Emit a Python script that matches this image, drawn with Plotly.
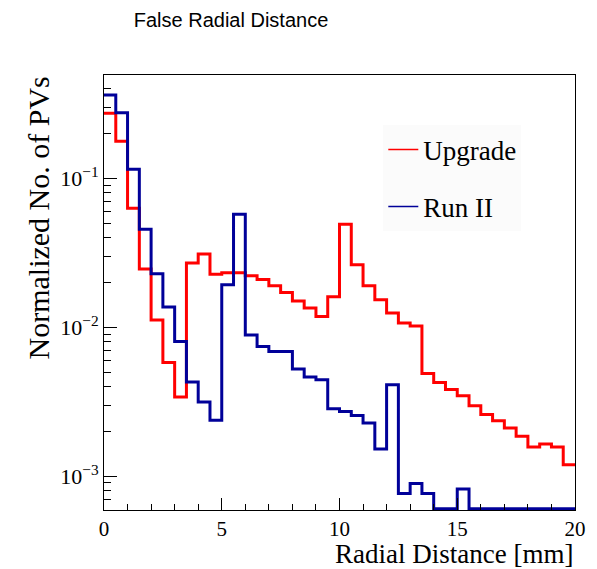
import numpy as np
import plotly.graph_objects as go

# ---- data ----
bin_lo, bin_hi, n_bins = 0.0, 20.0, 40
upgrade = [0.274, 0.178, 0.063, 0.0246, 0.0112, 0.0058, 0.0034, 0.027, 0.0311, 0.0227,
           0.0232, 0.0232, 0.0222, 0.0209, 0.0190, 0.0171, 0.0150, 0.01345, 0.0118, 0.0160,
           0.0493, 0.0263, 0.0190, 0.0153, 0.01245, 0.0107, 0.0102, 0.00488, 0.00426, 0.00381,
           0.00347, 0.00297, 0.00259, 0.00235, 0.0021, 0.00185, 0.00157, 0.00164, 0.00157, 0.00119]
run2 = [0.363, 0.2765, 0.1153, 0.0456, 0.0229, 0.01366, 0.00803, 0.00429, 0.00315, 0.00237,
        0.0193, 0.0575, 0.00887, 0.00743, 0.00688, 0.00688, 0.00525, 0.00463, 0.00444, 0.00283,
        0.00272, 0.00255, 0.00227, 0.00152, 0.00411, 0.000763, 0.000891, 0.000763, 0.0, 0.0,
        0.00082, 0.0, 0.0, 0.0, 0.0, 0.0, 0.0, 0.0, 0.0, 0.0]
x_tick_vals = [0, 5, 10, 15, 20]
y_tick_vals = [1e-3, 1e-2, 1e-1]
y_tick_text = ["10<sup>\u22123</sup>", "10<sup>\u22122</sup>", "10<sup>\u22121</sup>"]

# ---- styling ----
LOG_MIN, LOG_MAX = -3.228, -0.305
edges = np.linspace(bin_lo, bin_hi, n_bins + 1)
floor = 10 ** (LOG_MIN + 0.008)  # empty bins drawn on the frame bottom (ROOT style)


def step_y(vals):
    v = [max(a, floor) for a in vals]
    return v + [v[-1]]


RED = "#FF0000"
BLUE = "#000099"
SERIF = "Liberation Serif, Times New Roman, serif"
SANS = "Liberation Sans, Arial, Helvetica, sans-serif"

fig = go.Figure()
fig.add_trace(go.Scatter(x=edges, y=step_y(upgrade), mode="lines", line_shape="hv",
                         line=dict(color=RED, width=3), showlegend=False, name="Upgrade"))
fig.add_trace(go.Scatter(x=edges, y=step_y(run2), mode="lines", line_shape="hv",
                         line=dict(color=BLUE, width=3), showlegend=False, name="Run II"))
# legend entries (thin lines, as in the reference)
fig.add_trace(go.Scatter(x=[None], y=[None], mode="lines", line=dict(color=RED, width=1.5),
                         name="Upgrade", legendgroup="a"))
fig.add_trace(go.Scatter(x=[None], y=[None], mode="lines", line=dict(color=BLUE, width=1.5),
                         name="Run II", legendgroup="b"))

minor_y = [m * 10 ** e for e in (-4, -3, -2, -1) for m in range(2, 10)]
minor_y = [v for v in minor_y if 10 ** LOG_MIN <= v <= 10 ** LOG_MAX]

PW, PH = 471, 435  # plot-area size in px

fig.update_layout(
    width=597, height=569,
    margin=dict(l=104, r=22, t=75, b=59),
    paper_bgcolor="white", plot_bgcolor="white",
    title=dict(text="False Radial Distance", x=231 / 597, xanchor="center",
               y=1 - 20 / 569, yanchor="middle",
               font=dict(family=SANS, size=20, color="black")),
    showlegend=True,
    legend=dict(x=0.593, y=0.884, xanchor="left", yanchor="top",
                bgcolor="rgba(248,248,248,0.5)", borderwidth=0,
                font=dict(family=SERIF, size=27, color="black"),
                tracegroupgap=19, itemwidth=30),
    xaxis=dict(range=[bin_lo, bin_hi], tickvals=x_tick_vals, ticks="inside", ticklen=12,
               tickcolor="black", tickwidth=1,
               minor=dict(dtick=1, ticks="inside", ticklen=6, tickcolor="black"),
               showgrid=False, zeroline=False, showline=True, linecolor="black", linewidth=1,
               mirror=True, tickfont=dict(family=SERIF, size=21, color="black")),
    yaxis=dict(type="log", range=[LOG_MIN, LOG_MAX], tickvals=y_tick_vals, ticktext=y_tick_text,
               ticks="inside", ticklen=13, tickcolor="black", tickwidth=1,
               minor=dict(tickvals=minor_y, ticks="inside", ticklen=7, tickcolor="black"),
               showgrid=False, zeroline=False, showline=True, linecolor="black", linewidth=1,
               mirror=True, tickfont=dict(family=SERIF, size=22, color="black")),
    annotations=[
        dict(text="Radial Distance [mm]", x=1.0, xref="paper", xanchor="right",
             y=-(554 - 510) / PH, yref="paper", yanchor="middle", showarrow=False,
             font=dict(family=SERIF, size=27, color="black")),
        dict(text="Normalized No. of PVs", textangle=-90, x=-(104 - 38) / PW, xref="paper",
             xanchor="center", y=1.0, yref="paper", yanchor="top",
             showarrow=False, font=dict(family=SERIF, size=30, color="black")),
    ],
)

fig.write_html("out.html", config={"displayModeBar": False},
               post_script="document.body.style.margin='0';")
